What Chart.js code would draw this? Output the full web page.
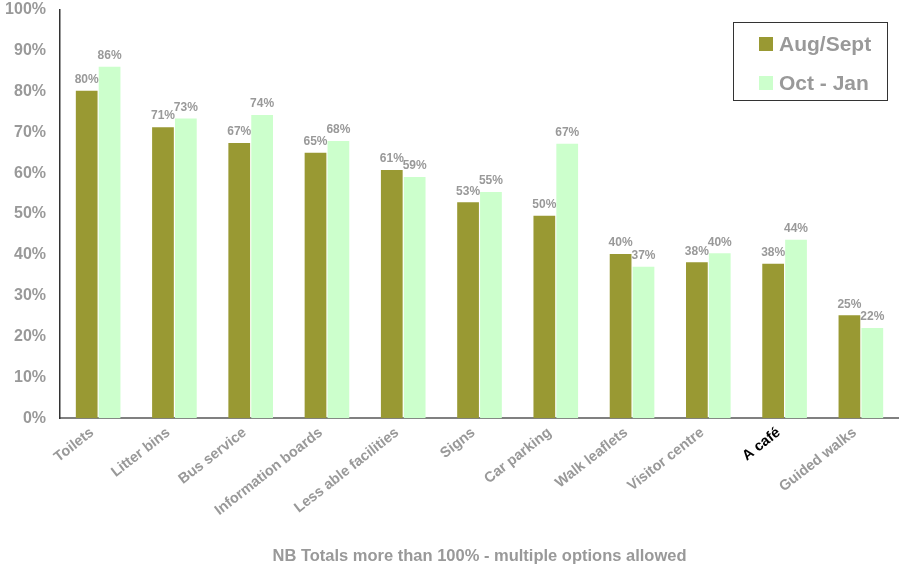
<!DOCTYPE html>
<html>
<head>
<meta charset="utf-8">
<script src="https://cdn.jsdelivr.net/npm/chart.js@4"></script>
<style>
  html, body { margin: 0; padding: 0; background: #fff; }
  #wrap { width: 899px; height: 566px; position: relative; }
</style>
</head>
<body>
<div id="wrap"><canvas id="chart"></canvas></div>
<script>
// categories and series
const categories = ['Toilets', 'Litter bins', 'Bus service', 'Information boards', 'Less able facilities',
  'Signs', 'Car parking', 'Walk leaflets', 'Visitor centre', 'A café', 'Guided walks'];
const augSept = [80.2, 71.3, 67.4, 65.0, 60.8, 52.9, 49.6, 40.2, 38.2, 37.8, 25.2];
const octJan = [86.1, 73.4, 74.3, 67.9, 59.1, 55.4, 67.2, 37.1, 40.4, 43.7, 22.1];
const seriesNames = ['Aug/Sept', 'Oct - Jan'];
const yTicks = [0, 10, 20, 30, 40, 50, 60, 70, 80, 90, 100];

const grey = '#999999';
const font = 'Liberation Sans, Arial, sans-serif';

// value labels above the bars
const barLabels = {
  id: 'barLabels',
  afterDatasetsDraw(chart) {
    const ctx = chart.ctx;
    ctx.save();
    ctx.font = 'bold 12px ' + font;
    ctx.fillStyle = grey;
    ctx.textAlign = 'center';
    ctx.textBaseline = 'bottom';
    chart.data.datasets.forEach((ds, i) => {
      chart.getDatasetMeta(i).data.forEach((bar, j) => {
        ctx.fillText(Math.round(ds.data[j]) + '%', bar.x, bar.y - 5);
      });
    });
    ctx.restore();
  }
};

// boxed legend in the top right corner
const boxLegend = {
  id: 'boxLegend',
  afterDraw(chart) {
    const ctx = chart.ctx;
    const x = 733, y = 22, w = 154, h = 78;
    ctx.save();
    ctx.fillStyle = '#fff';
    ctx.fillRect(x, y, w, h);
    ctx.strokeStyle = '#333';
    ctx.lineWidth = 1;
    ctx.strokeRect(x + 0.5, y + 0.5, w, h);
    ctx.font = 'bold 21px ' + font;
    ctx.textBaseline = 'middle';
    chart.data.datasets.forEach((ds, i) => {
      const cy = y + 22 + i * 39;
      ctx.fillStyle = ds.backgroundColor;
      ctx.fillRect(x + 26, cy - 7, 14, 14);
      ctx.fillStyle = grey;
      ctx.fillText(ds.label, x + 46, cy + 1);
    });
    ctx.restore();
  }
};

new Chart(document.getElementById('chart'), {
  type: 'bar',
  data: {
    labels: categories,
    datasets: [
      { label: seriesNames[0], data: augSept, backgroundColor: '#999933', barPercentage: 0.95, categoryPercentage: 0.6 },
      { label: seriesNames[1], data: octJan, backgroundColor: '#CCFFCC', barPercentage: 0.95, categoryPercentage: 0.6 }
    ]
  },
  options: {
    responsive: true,
    maintainAspectRatio: false,
    animation: false,
    layout: { padding: { top: 10, right: 0, left: 0, bottom: 0 } },
    plugins: {
      legend: { display: false },
      tooltip: { enabled: false }
    },
    scales: {
      x: {
        grid: { display: false, drawTicks: false },
        border: { color: '#808080', width: 2 },
        ticks: {
          autoSkip: false,
          minRotation: 38,
          maxRotation: 38,
          padding: 6,
          labelOffset: -6,
          color: (c) => categories[c.index] === 'A café' ? '#000' : grey,
          font: { family: font, size: 14.5, weight: 'bold' }
        },
        title: {
          display: true,
          text: 'NB Totals more than 100% - multiple options allowed',
          color: grey,
          padding: { top: 21, bottom: 0 },
          font: { family: font, size: 16.5, weight: 'bold' }
        }
      },
      y: {
        min: 0,
        max: 100,
        afterFit: (s) => { s.width = 60; s.paddingTop = 0; s.paddingBottom = 0; },
        afterBuildTicks: (s) => { s.ticks = yTicks.map(v => ({ value: v })); },
        grid: { display: false, drawTicks: false },
        border: { color: '#333', width: 1.5 },
        ticks: {
          padding: 14,
          color: grey,
          font: { family: font, size: 16, weight: 'bold' },
          callback: (v) => v + '%'
        }
      }
    }
  },
  plugins: [barLabels, boxLegend]
});
</script>
</body>
</html>
